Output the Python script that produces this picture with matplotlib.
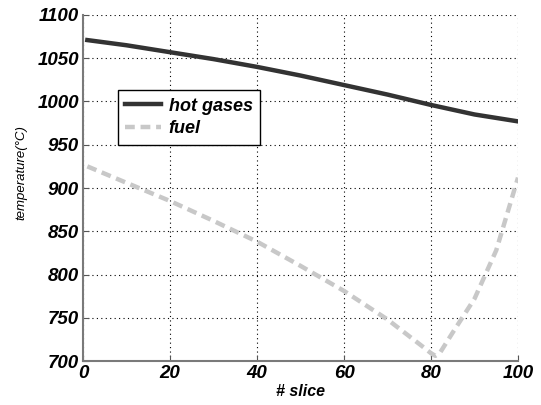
import matplotlib.pyplot as plt
import numpy as np

# data
slice_hot = [1, 10, 20, 30, 40, 50, 60, 70, 80, 90, 100]
temp_hot = [1071, 1065, 1057, 1049, 1040, 1030, 1019, 1008, 996, 985, 977]

slice_fuel = [1, 10, 20, 30, 40, 50, 60, 70, 78, 80, 81, 82, 85, 90, 95, 100]
temp_fuel = [925, 906, 885, 862, 838, 810, 781, 748, 717, 709, 706, 709, 733, 772, 828, 912]

xticks = [0, 20, 40, 60, 80, 100]
yticks = [700, 750, 800, 850, 900, 950, 1000, 1050, 1100]

plt.rcParams['font.family'] = ['Liberation Sans', 'DejaVu Sans']

fig = plt.figure(figsize=(5.41, 4.05), dpi=100)
ax = fig.add_axes([0.1534, 0.1086, 0.8041, 0.8544])

ax.plot(slice_hot, temp_hot, color='#333333', linewidth=3.2, label='hot gases')
ax.plot(slice_fuel, temp_fuel, color='#c8c8c8', linewidth=3.2,
        linestyle=(0, (2.2, 1.3)), label='fuel')

ax.set_xlim(0, 100)
ax.set_ylim(700, 1100)
ax.set_xticks(xticks)
ax.set_yticks(yticks)
ax.grid(True, color='black', linestyle=(0, (1, 3)), linewidth=0.8)

for s in ['top', 'right']:
    ax.spines[s].set_visible(False)
for s in ['left', 'bottom']:
    ax.spines[s].set_color('#7a7a7a')
    ax.spines[s].set_linewidth(1.5)

ax.tick_params(direction='in', length=4, color='#555555', pad=3)
for lab in ax.get_xticklabels() + ax.get_yticklabels():
    lab.set_fontsize(13.5)
    lab.set_fontweight('bold')
    lab.set_fontstyle('italic')

ax.set_xlabel('# slice', fontsize=11.5, fontstyle='italic', fontweight='semibold', labelpad=1)
ax.set_ylabel('temperature(°C)', fontsize=9.5, fontstyle='italic', labelpad=4)
ax.yaxis.set_label_coords(-0.127, 0.545)

leg = ax.legend(loc='upper left', bbox_to_anchor=(0.08, 0.783), borderaxespad=0,
                fancybox=False, edgecolor='black', framealpha=1, handlelength=2.0,
                prop={'size': 13, 'weight': 'bold', 'style': 'italic'},
                borderpad=0.42, labelspacing=0.3, handletextpad=0.4)
leg.get_frame().set_linewidth(1.0)

plt.savefig('out.png')
